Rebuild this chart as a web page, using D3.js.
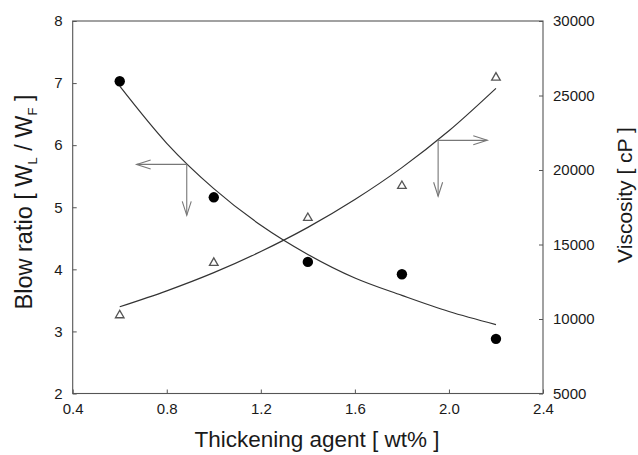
<!DOCTYPE html>
<html>
<head>
<meta charset="utf-8">
<script src="https://cdn.jsdelivr.net/npm/d3@7/dist/d3.min.js"></script>
<style>
  html, body { margin: 0; padding: 0; background: #fff; }
  text { font-family: "Liberation Sans", Arial, sans-serif; fill: #1a1a1a; }
</style>
</head>
<body>
<svg id="chart" width="638" height="455"></svg>
<script>
// ---- data ----
const thickener = [0.6, 1.0, 1.4, 1.8, 2.2];
const blowRatio = [7.03, 5.16, 4.12, 3.92, 2.88];
const viscosity = [10250, 13770, 16780, 18930, 26200];

// fitted curves
const fitX = [0.6, 0.8, 1.0, 1.2, 1.4, 1.6, 1.8, 2.0, 2.2];
const blowFit = [6.95, 6.03, 5.30, 4.71, 4.24, 3.86, 3.58, 3.32, 3.11];
const viscFit = [10820, 11890, 13110, 14530, 16150, 18020, 20160, 22630, 25480];

const xTicks = [0.4, 0.8, 1.2, 1.6, 2.0, 2.4];
const leftTicks = [2, 3, 4, 5, 6, 7, 8];
const rightTicks = [5000, 10000, 15000, 20000, 25000, 30000];

// annotation arrows: [originX, originY, horizontal tip X, vertical tip Y]
const leftArrow = [0.885, 5.69, 0.672, 4.87];
const rightArrow = [1.954, 21990, 2.163, 18240];

// ---- layout ----
const L = 72.7, R = 543, T = 21, B = 393.5;
const svg = d3.select("#chart");

const x = d3.scaleLinear().domain([0.4, 2.4]).range([L, R]);
const yL = d3.scaleLinear().domain([2, 8]).range([B, T]);
const yR = d3.scaleLinear().domain([5000, 30000]).range([B, T]);

const axisColor = "#555";
const tickLen = 4;

// frame
svg.append("rect").attr("x", L).attr("y", T).attr("width", R - L).attr("height", B - T)
  .attr("fill", "none").attr("stroke", axisColor).attr("stroke-width", 1.1);

// axes with inward ticks
const gx = svg.append("g").attr("transform", `translate(0,${B})`)
  .call(d3.axisBottom(x).tickValues(xTicks).tickFormat(d3.format(".1f")).tickSize(-tickLen).tickPadding(9));
const gl = svg.append("g").attr("transform", `translate(${L},0)`)
  .call(d3.axisLeft(yL).tickValues(leftTicks).tickFormat(d3.format("d")).tickSize(-tickLen).tickPadding(10));
const gr = svg.append("g").attr("transform", `translate(${R},0)`)
  .call(d3.axisRight(yR).tickValues(rightTicks).tickFormat(d3.format("d")).tickSize(-tickLen).tickPadding(10));

[gx, gl, gr].forEach(g => {
  g.select(".domain").remove();
  g.selectAll(".tick line").attr("stroke", axisColor).attr("stroke-width", 1);
  g.selectAll(".tick text").attr("font-size", 15).attr("fill", "#1a1a1a")
    .attr("font-family", "'Liberation Sans', Arial, sans-serif");
});
gx.selectAll(".tick text").attr("dy", "0.75em");

// fitted curves
const lineBlow = d3.line().x((d, i) => x(fitX[i])).y(d => yL(d)).curve(d3.curveMonotoneX);
const lineVisc = d3.line().x((d, i) => x(fitX[i])).y(d => yR(d)).curve(d3.curveMonotoneX);
svg.append("path").attr("d", lineBlow(blowFit)).attr("fill", "none").attr("stroke", "#333").attr("stroke-width", 1.2);
svg.append("path").attr("d", lineVisc(viscFit)).attr("fill", "none").attr("stroke", "#333").attr("stroke-width", 1.2);

// markers
svg.append("g").selectAll("circle").data(blowRatio).join("circle")
  .attr("cx", (d, i) => x(thickener[i])).attr("cy", d => yL(d)).attr("r", 5.2).attr("fill", "#000");
const tri = d3.symbol().type(d3.symbolTriangle).size(32);
svg.append("g").selectAll("path").data(viscosity).join("path")
  .attr("d", tri).attr("transform", (d, i) => `translate(${x(thickener[i])},${yR(d)})`)
  .attr("fill", "none").attr("stroke", "#555").attr("stroke-width", 1.3);

// arrows
function arrow(ox, oy, hx, vy) {
  const g = svg.append("g").attr("stroke", "#777").attr("stroke-width", 1.1).attr("fill", "none");
  g.append("line").attr("x1", ox).attr("y1", oy).attr("x2", hx).attr("y2", oy);
  g.append("line").attr("x1", ox).attr("y1", oy).attr("x2", ox).attr("y2", vy);
  const dir = Math.sign(hx - ox);
  const al = 14, aw = 4.5;
  g.append("path").attr("d", `M${hx - dir * al},${oy - aw}L${hx},${oy}L${hx - dir * al},${oy + aw}`);
  g.append("path").attr("d", `M${ox - aw},${vy - al}L${ox},${vy}L${ox + aw},${vy - al}`);
}
arrow(x(leftArrow[0]), yL(leftArrow[1]), x(leftArrow[2]), yL(leftArrow[3]));
arrow(x(rightArrow[0]), yR(rightArrow[1]), x(rightArrow[2]), yR(rightArrow[3]));

// axis titles
svg.append("text").attr("x", 317).attr("y", 447).attr("text-anchor", "middle")
  .attr("font-size", 22.5).text("Thickening agent [ wt% ]");

const lt = svg.append("text").attr("transform", `translate(32,202) rotate(-90)`)
  .attr("text-anchor", "middle").attr("font-size", 23.5);
lt.append("tspan").text("Blow ratio [ W");
lt.append("tspan").attr("font-size", 13).attr("dy", 5).text("L");
lt.append("tspan").attr("dy", -5).text(" / W");
lt.append("tspan").attr("font-size", 13).attr("dy", 5).text("F");
lt.append("tspan").attr("dy", -5).text(" ]");

svg.append("text").attr("transform", `translate(632,195) rotate(-90)`)
  .attr("text-anchor", "middle").attr("font-size", 21).text("Viscosity [ cP ]");
</script>
</body>
</html>
